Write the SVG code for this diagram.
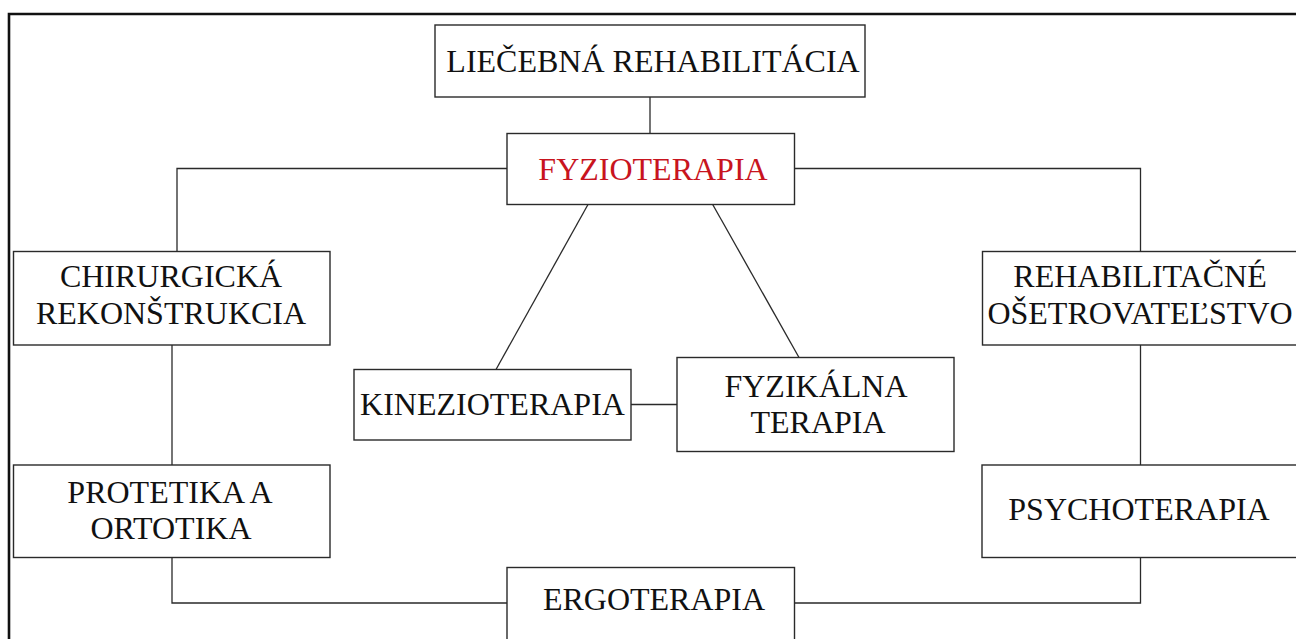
<svg xmlns="http://www.w3.org/2000/svg" width="1296" height="639" viewBox="0 0 1296 639">
<style>
.box{fill:#fff;stroke:#2a2a2a;stroke-width:1.4}
.t{font-family:"Liberation Serif","Times New Roman",serif;font-size:32px;fill:#111;text-anchor:middle}
.red{fill:#c8141e}
.c{fill:none;stroke:#2a2a2a;stroke-width:1.3}
</style>
<rect width="1296" height="639" fill="#fff"/>
<path d="M9,639 V14 H1296" fill="none" stroke="#111" stroke-width="2.6"/>
<g id="connectors" class="c">
<path d="M650,97 V133.5"/>
<path d="M507,168.5 H177 V251.5"/>
<path d="M794.5,168.5 H1140.5 V251.5"/>
<path d="M588,204.5 L496,369.5"/>
<path d="M712.7,204.5 L799,357.5"/>
<path d="M631,404.5 H677"/>
<path d="M172,345 V465"/>
<path d="M1140.5,345 V465"/>
<path d="M172,557.5 V603 H507"/>
<path d="M1140.5,557.5 V603 H794.5"/>
</g>
<g id="liecebna"><rect class="box" x="435" y="25" width="430" height="72"/><text class="t" x="653" y="72">LIEČEBNÁ REHABILITÁCIA</text></g>
<g id="fyzioterapia"><rect class="box" x="507" y="133.5" width="287.5" height="71"/><text class="t red" x="653" y="180">FYZIOTERAPIA</text></g>
<g id="chirurgicka"><rect class="box" x="13.5" y="251.5" width="316.5" height="93.5"/><text class="t" x="171" y="286.7">CHIRURGICKÁ</text><text class="t" x="171" y="323.5">REKONŠTRUKCIA</text></g>
<g id="rehabilitacne"><rect class="box" x="982.5" y="251.5" width="330" height="93.5"/><text class="t" x="1140" y="286.7">REHABILITAČNÉ</text><text class="t" x="1140" y="323.5">OŠETROVATEĽSTVO</text></g>
<g id="kinezioterapia"><rect class="box" x="354" y="369.5" width="277" height="70.5"/><text class="t" x="492.5" y="415">KINEZIOTERAPIA</text></g>
<g id="fyzikalna"><rect class="box" x="677" y="357.5" width="277" height="94"/><text class="t" x="816" y="396.7">FYZIKÁLNA</text><text class="t" x="818" y="433.3">TERAPIA</text></g>
<g id="protetika"><rect class="box" x="13.5" y="465" width="316.5" height="92.5"/><text class="t" x="170" y="502.7">PROTETIKA A</text><text class="t" x="171" y="539.3">ORTOTIKA</text></g>
<g id="psychoterapia"><rect class="box" x="982" y="465" width="330" height="92.5"/><text class="t" x="1139" y="520">PSYCHOTERAPIA</text></g>
<g id="ergoterapia"><rect class="box" x="507" y="567.5" width="287.5" height="80"/><text class="t" x="654" y="610">ERGOTERAPIA</text></g>
</svg>
